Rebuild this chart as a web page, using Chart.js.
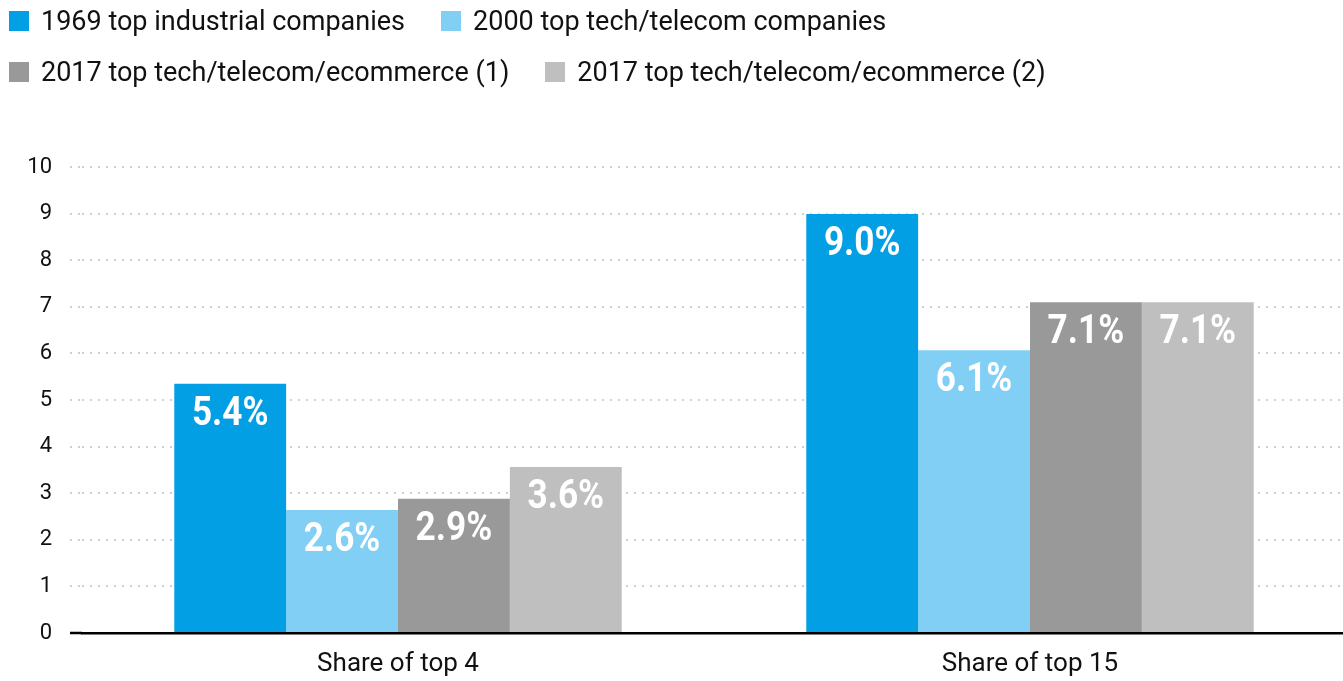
<!DOCTYPE html>
<html>
<head>
<meta charset="utf-8">
<script src="https://cdn.jsdelivr.net/npm/chart.js@4"></script>
<style>
  html, body { margin: 0; padding: 0; background: #fff; overflow: hidden; }
  #wrap { position: relative; width: 1343px; height: 681px; overflow: hidden; }
  #legend { position: absolute; left: 9px; top: -5px; font-family: Roboto, sans-serif; font-size: 27px; color: #111; }
  .row { display: flex; height: 51px; align-items: center; }
  .item { display: flex; align-items: center; margin-right: 36px; white-space: nowrap; }
  .box { width: 20px; height: 20px; margin-right: 12px; }
  canvas { position: absolute; left: 0; top: 0; }
</style>
</head>
<body>
<div id="wrap">
  <canvas id="chart" width="1346" height="681"></canvas>
  <div id="legend"></div>
</div>
<script>
// categories and series
const categories = ['Share of top 4', 'Share of top 15'];
const seriesNames = [
    '1969 top industrial companies',
    '2000 top tech/telecom companies',
    '2017 top tech/telecom/ecommerce (1)',
    '2017 top tech/telecom/ecommerce (2)'
];
const values1969 = [5.35, 8.99];
const values2000 = [2.64, 6.07];
const values2017a = [2.88, 7.1];
const values2017b = [3.56, 7.1];
const labels1969 = ['5.4%', '9.0%'];
const labels2000 = ['2.6%', '6.1%'];
const labels2017a = ['2.9%', '7.1%'];
const labels2017b = ['3.6%', '7.1%'];
const yTicks = [0, 1, 2, 3, 4, 5, 6, 7, 8, 9, 10];
const colors = ['#039fe5', '#81cff4', '#999999', '#bfbfbf'];

const allValues = [values1969, values2000, values2017a, values2017b];
const allLabels = [labels1969, labels2000, labels2017a, labels2017b];

// white percentage labels inside bar tops
const barLabels = {
    id: 'barLabels',
    afterDatasetsDraw(chart) {
        const ctx = chart.ctx;
        chart.data.datasets.forEach((ds, i) => {
            chart.getDatasetMeta(i).data.forEach((bar, j) => {
                ctx.save();
                ctx.translate(bar.x, bar.y + 31);
                ctx.scale(0.88, 1);
                ctx.font = 'bold 40px Roboto';
                ctx.fillStyle = '#fff';
                ctx.textAlign = 'center';
                ctx.textBaseline = 'middle';
                ctx.fillText(allLabels[i][j], 0, 0);
                ctx.restore();
            });
        });
    }
};

const ctx = document.getElementById('chart').getContext('2d');
const chart = new Chart(ctx, {
    type: 'bar',
    data: {
        labels: categories,
        datasets: allValues.map((v, i) => ({
            label: seriesNames[i],
            data: v,
            backgroundColor: colors[i],
            borderWidth: 0,
            categoryPercentage: 0.708,
            barPercentage: 1.0
        }))
    },
    options: {
        responsive: false,
        animation: false,
        layout: { padding: { top: 167, right: 0, bottom: 0, left: 0 } },
        plugins: {
            legend: { display: false },
            tooltip: { enabled: false }
        },
        scales: {
            x: {
                grid: { display: false, drawTicks: false },
                border: { display: true, color: '#000', width: 2.5 },
                ticks: { color: '#111', font: { family: 'Roboto', size: 26 }, padding: 16 },
                afterFit(scale) { scale.height = 48; }
            },
            y: {
                min: 0,
                max: 10,
                afterBuildTicks(scale) { scale.ticks = yTicks.map(v => ({ value: v })); },
                ticks: { color: '#111', font: { family: 'Roboto', size: 22 }, padding: 18 },
                grid: {
                    color: ctx => ctx.tick && ctx.tick.value === 0 ? '#000' : '#cfcfcf',
                    lineWidth: 2,
                    drawTicks: true,
                    tickLength: 12,
                    tickColor: ctx => ctx.tick && ctx.tick.value === 0 ? '#000' : '#cfcfcf',
                    tickWidth: ctx => ctx.tick && ctx.tick.value === 0 ? 2.5 : 2,
                    tickBorderDash: ctx => ctx.tick && ctx.tick.value === 0 ? [] : [2, 6]
                },
                border: { display: false, dash: [2, 6] },
                afterFit(scale) { scale.width = 82; }
            }
        }
    },
    plugins: [barLabels]
});

// html legend in two rows
const legendEl = document.getElementById('legend');
[[0, 1], [2, 3]].forEach(rowIdx => {
    const row = document.createElement('div');
    row.className = 'row';
    rowIdx.forEach(i => {
        const item = document.createElement('span');
        item.className = 'item';
        item.innerHTML = '<span class="box" style="background:' + colors[i] + '"></span>' + seriesNames[i];
        row.appendChild(item);
    });
    legendEl.appendChild(row);
});
</script>
</body>
</html>
